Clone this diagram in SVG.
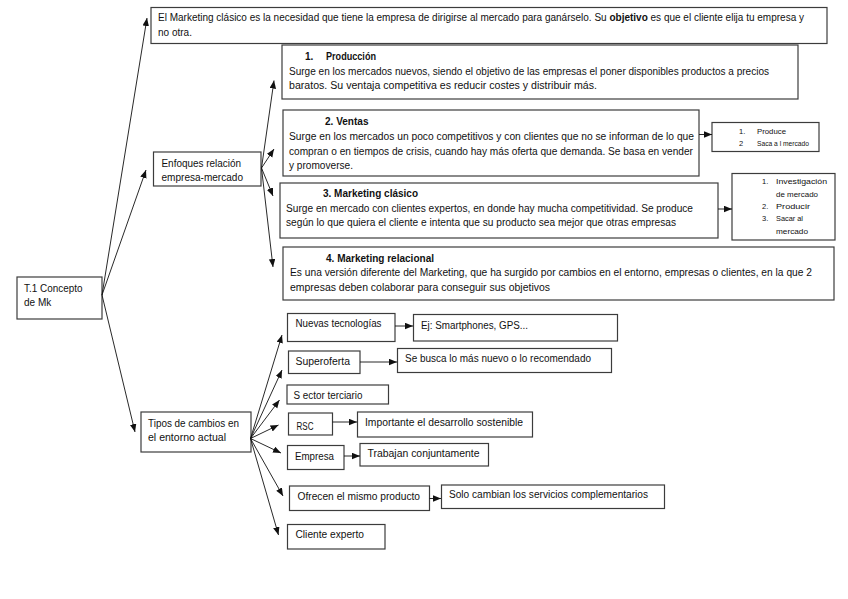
<svg xmlns="http://www.w3.org/2000/svg" width="848" height="599" viewBox="0 0 848 599">
<defs>
<style>
.box{fill:#fff;stroke:#3c3c3c;stroke-width:1.2}
text{font-family:"Liberation Sans",Arial,sans-serif;font-size:10px;fill:#111}
.b{font-weight:bold}
.sm{font-size:7.5px}
.cn line{stroke:#111;stroke-width:0.9;marker-end:url(#ah)}
</style>
<marker id="ah" markerUnits="userSpaceOnUse" markerWidth="9" markerHeight="7" refX="8" refY="3.25" orient="auto"><path d="M0,0 L8,3.25 L0,6.5 z" fill="#111"/></marker>
</defs>
<rect width="848" height="599" fill="#fff"/>

<g id="n-t1"><rect class="box" x="17" y="277" width="85" height="42"/>
<text x="24" y="291.5" textLength="58.5" lengthAdjust="spacingAndGlyphs">T.1 Concepto</text>
<text x="24" y="305.5">de Mk</text></g>

<g id="n-def"><rect class="box" x="151" y="7.5" width="676" height="36"/>
<text x="158" y="21" textLength="646" lengthAdjust="spacingAndGlyphs">El Marketing clásico es la necesidad que tiene la empresa de dirigirse al mercado para ganárselo. Su <tspan class="b">objetivo</tspan> es que el cliente elija tu empresa y</text>
<text x="158" y="36">no otra.</text></g>

<g id="n-enf"><rect class="box" x="153.5" y="152" width="107.5" height="34"/>
<text x="161.5" y="166.5" textLength="79.5" lengthAdjust="spacingAndGlyphs">Enfoques relación</text>
<text x="161.5" y="180.5" textLength="81.5" lengthAdjust="spacingAndGlyphs">empresa-mercado</text></g>

<g id="n-prod"><rect class="box" x="282" y="45" width="516" height="54"/>
<text class="b" x="305" y="59.5">1.</text>
<text class="b" x="326" y="59.5" textLength="50" lengthAdjust="spacingAndGlyphs">Producción</text>
<text x="289" y="74.5" textLength="480" lengthAdjust="spacingAndGlyphs">Surge en los mercados nuevos, siendo el objetivo de las empresas el poner disponibles productos a precios</text>
<text x="289" y="89" textLength="308" lengthAdjust="spacingAndGlyphs">baratos. Su ventaja competitiva es reducir costes y distribuir más.</text></g>

<g id="n-ventas"><rect class="box" x="283" y="110" width="416" height="66"/>
<text class="b" x="325" y="125" textLength="43.5" lengthAdjust="spacingAndGlyphs">2. Ventas</text>
<text x="289" y="139.5" textLength="405" lengthAdjust="spacingAndGlyphs">Surge en los mercados un poco competitivos y con clientes que no se informan de lo que</text>
<text x="289" y="154.5" textLength="404" lengthAdjust="spacingAndGlyphs">compran o en tiempos de crisis, cuando hay más oferta que demanda. Se basa en vender</text>
<text x="289" y="168.5" textLength="64" lengthAdjust="spacingAndGlyphs">y promoverse.</text></g>

<g id="n-produce"><rect class="box" x="712" y="122.5" width="107" height="29"/>
<text class="sm" x="739" y="133.5">1.</text><text class="sm" x="757" y="133.5" textLength="29" lengthAdjust="spacingAndGlyphs">Produce</text>
<text class="sm" x="739" y="146">2</text><text class="sm" x="757" y="146" textLength="52" lengthAdjust="spacingAndGlyphs">Saca a l mercado</text></g>

<g id="n-clasico"><rect class="box" x="280" y="183" width="438" height="55"/>
<text class="b" x="323" y="197" textLength="95" lengthAdjust="spacingAndGlyphs">3. Marketing clásico</text>
<text x="286" y="211.5" textLength="407" lengthAdjust="spacingAndGlyphs">Surge en mercado con clientes expertos, en donde hay mucha competitividad. Se produce</text>
<text x="286" y="225.5" textLength="390" lengthAdjust="spacingAndGlyphs">según lo que quiera el cliente e intenta que su producto sea mejor que otras empresas</text></g>

<g id="n-pasos"><rect class="box" x="732" y="173.5" width="103" height="66.5"/>
<text class="sm" x="762" y="184">1.</text><text class="sm" x="776" y="184" textLength="51" lengthAdjust="spacingAndGlyphs">Investigación</text>
<text class="sm" x="776" y="197" textLength="42" lengthAdjust="spacingAndGlyphs">de mercado</text>
<text class="sm" x="762" y="209">2.</text><text class="sm" x="776" y="209" textLength="34" lengthAdjust="spacingAndGlyphs">Producir</text>
<text class="sm" x="762" y="221">3.</text><text class="sm" x="776" y="221" textLength="27" lengthAdjust="spacingAndGlyphs">Sacar al</text>
<text class="sm" x="776" y="233.5" textLength="32" lengthAdjust="spacingAndGlyphs">mercado</text></g>

<g id="n-relacional"><rect class="box" x="283" y="247" width="551" height="53"/>
<text class="b" x="326" y="261.5" textLength="108" lengthAdjust="spacingAndGlyphs">4. Marketing relacional</text>
<text x="290" y="276" textLength="522" lengthAdjust="spacingAndGlyphs">Es una versión diferente del Marketing, que ha surgido por cambios en el entorno, empresas o clientes, en la que 2</text>
<text x="290" y="290.5" textLength="260" lengthAdjust="spacingAndGlyphs">empresas deben colaborar para conseguir sus objetivos</text></g>

<g id="n-tipos"><rect class="box" x="141" y="412" width="110" height="40"/>
<text x="148" y="426.5" textLength="91" lengthAdjust="spacingAndGlyphs">Tipos de cambios en</text>
<text x="148" y="440.5" textLength="78" lengthAdjust="spacingAndGlyphs">el entorno actual</text></g>

<g id="n-nuevas"><rect class="box" x="287.5" y="313.5" width="107.5" height="28"/>
<text x="295.5" y="326.5" textLength="86" lengthAdjust="spacingAndGlyphs">Nuevas tecnologías</text></g>
<g id="n-ej"><rect class="box" x="413.5" y="314.5" width="204" height="26.5"/>
<text x="421" y="329" textLength="107" lengthAdjust="spacingAndGlyphs">Ej: Smartphones, GPS...</text></g>

<g id="n-super"><rect class="box" x="288.5" y="351" width="71.5" height="22.5"/>
<text x="295.5" y="364.5" textLength="54.5" lengthAdjust="spacingAndGlyphs">Superoferta</text></g>
<g id="n-sebusca"><rect class="box" x="397.5" y="348.5" width="214" height="24"/>
<text x="405" y="361.5" textLength="186" lengthAdjust="spacingAndGlyphs">Se busca lo más nuevo o lo recomendado</text></g>

<g id="n-sector"><rect class="box" x="287" y="385" width="101.5" height="19"/>
<text x="293.5" y="399" textLength="69" lengthAdjust="spacingAndGlyphs">S ector terciario</text></g>

<g id="n-rsc"><rect class="box" x="288.5" y="413" width="44" height="22"/>
<text x="296.5" y="430" textLength="17" lengthAdjust="spacingAndGlyphs">RSC</text></g>
<g id="n-importante"><rect class="box" x="357.5" y="412" width="175" height="25"/>
<text x="365" y="425.5" textLength="158" lengthAdjust="spacingAndGlyphs">Importante el desarrollo sostenible</text></g>

<g id="n-empresa"><rect class="box" x="287.5" y="445.5" width="56.5" height="24"/>
<text x="295" y="460" textLength="39" lengthAdjust="spacingAndGlyphs">Empresa</text></g>
<g id="n-trabajan"><rect class="box" x="360" y="443.5" width="128.5" height="22.5"/>
<text x="367.5" y="457" textLength="112" lengthAdjust="spacingAndGlyphs">Trabajan conjuntamente</text></g>

<g id="n-ofrecen"><rect class="box" x="289.5" y="486" width="140" height="24.5"/>
<text x="297.5" y="499.5" textLength="122.5" lengthAdjust="spacingAndGlyphs">Ofrecen el mismo producto</text></g>
<g id="n-solo"><rect class="box" x="441.5" y="485" width="223" height="23.5"/>
<text x="449" y="497.5" textLength="199" lengthAdjust="spacingAndGlyphs">Solo cambian los servicios complementarios</text></g>

<g id="n-cliente"><rect class="box" x="287.5" y="524.5" width="97.5" height="24.5"/>
<text x="295.5" y="537.5" textLength="68.5" lengthAdjust="spacingAndGlyphs">Cliente experto</text></g>

<g id="connectors" class="cn">
<line x1="102" y1="295" x2="147" y2="18"/>
<line x1="102" y1="295" x2="146" y2="170"/>
<line x1="102" y1="295" x2="135" y2="432"/>
<line x1="261.5" y1="168" x2="274" y2="80.5"/>
<line x1="261.5" y1="168" x2="274" y2="149"/>
<line x1="261.5" y1="168" x2="273" y2="196"/>
<line x1="261.5" y1="168" x2="273" y2="267"/>
<line x1="699" y1="134.5" x2="712" y2="134.5"/>
<line x1="718" y1="209" x2="732" y2="209"/>
<line x1="250.5" y1="438.5" x2="282" y2="335"/>
<line x1="250.5" y1="438.5" x2="282" y2="370"/>
<line x1="250.5" y1="438.5" x2="279.5" y2="400"/>
<line x1="250.5" y1="438.5" x2="278.5" y2="425"/>
<line x1="250.5" y1="438.5" x2="281" y2="453"/>
<line x1="250.5" y1="438.5" x2="283" y2="496"/>
<line x1="250.5" y1="438.5" x2="278.5" y2="535"/>
<line x1="395" y1="326" x2="413" y2="326"/>
<line x1="360" y1="362" x2="397" y2="362"/>
<line x1="332.5" y1="422" x2="357" y2="422"/>
<line x1="344" y1="456" x2="360" y2="456"/>
<line x1="429.5" y1="498.5" x2="441" y2="498.5"/>
</g>
</svg>
